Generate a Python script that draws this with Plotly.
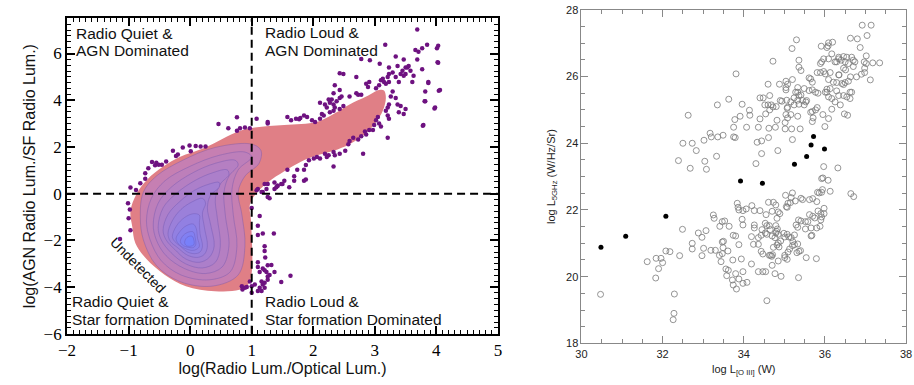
import plotly.graph_objects as go

# ---------------- Left panel: KDE contour outlines (outer -> inner), data coords ----------------
kde_l1_x = [-0.87, -0.70, -0.44, -0.17, 0.25, 0.78, 1.05, 1.53, 2.06, 2.33, 2.59, 2.86, 3.07, 3.15, 3.18, 3.13, 3.02, 2.86, 2.59, 2.33, 2.06, 1.80, 1.53, 1.26, 1.05, 0.97, 0.99, 1.00, 0.94, 0.80, 0.40, -0.07, -0.41, -0.71, -0.89, -0.94, -0.97]
kde_l1_y = [0.00, 0.60, 1.16, 1.57, 1.98, 2.66, 2.83, 2.94, 3.07, 3.41, 3.82, 4.16, 4.44, 4.42, 4.10, 3.55, 3.07, 2.60, 2.12, 1.84, 1.64, 1.37, 0.96, 0.48, -0.07, -0.48, -1.20, -3.40, -3.90, -4.12, -4.18, -3.96, -3.48, -2.80, -2.12, -1.43, -0.75]
kde_l2_x = [-0.81, -0.76, -0.55, -0.12, 0.41, 1.00, 1.15, 1.12, 0.89, 0.78, 0.84, 0.89, 0.78, 0.36, -0.17, -0.55, -0.76]
kde_l2_y = [-1.02, 0.07, 0.75, 1.43, 1.98, 2.12, 1.85, 1.30, 0.75, 0.07, -0.89, -2.25, -3.48, -3.96, -3.76, -3.07, -1.98]
kde_l3_x = [-0.71, -0.63, -0.41, -0.01, 0.47, 0.89, 1.00, 0.78, 0.68, 0.70, 0.76, 0.65, 0.31, -0.15, -0.47, -0.65]
kde_l3_y = [-1.16, -0.20, 0.55, 1.16, 1.64, 1.78, 1.57, 1.02, 0.20, -0.89, -2.25, -3.35, -3.69, -3.48, -2.87, -1.98]
kde_l4_x = [-0.60, -0.52, -0.31, 0.04, 0.41, 0.73, 0.78, 0.63, 0.55, 0.57, 0.63, 0.52, 0.25, -0.09, -0.39, -0.55]
kde_l4_y = [-1.30, -0.41, 0.27, 0.89, 1.30, 1.43, 1.23, 0.75, 0.07, -0.89, -2.25, -3.14, -3.42, -3.21, -2.66, -1.98]
kde_l5_x = [-0.52, -0.44, -0.23, 0.07, 0.36, 0.60, 0.63, 0.49, 0.41, 0.44, 0.49, 0.41, 0.20, -0.07, -0.31, -0.47]
kde_l5_y = [-1.43, -0.61, 0.00, 0.55, 0.89, 1.02, 0.82, 0.41, -0.20, -1.02, -2.25, -2.94, -3.18, -3.01, -2.53, -1.98]
kde_l6_x = [-0.44, -0.36, -0.17, 0.07, 0.31, 0.47, 0.47, 0.33, 0.28, 0.33, 0.39, 0.31, 0.15, -0.07, -0.25, -0.39]
kde_l6_y = [-1.57, -0.89, -0.34, 0.14, 0.41, 0.48, 0.27, -0.07, -0.61, -1.30, -2.25, -2.73, -2.94, -2.80, -2.39, -1.98]
kde_l7_x = [-0.36, -0.29, -0.15, 0.04, 0.20, 0.25, 0.20, 0.23, 0.28, 0.23, 0.12, -0.04, -0.20, -0.32]
kde_l7_y = [-1.71, -1.16, -0.68, -0.34, -0.20, -0.41, -0.82, -1.43, -2.25, -2.60, -2.73, -2.64, -2.32, -2.05]
kde_l8_x = [-0.29, -0.22, -0.09, 0.05, 0.15, 0.15, 0.16, 0.20, 0.16, 0.07, -0.04, -0.16, -0.25]
kde_l8_y = [-1.84, -1.37, -1.02, -0.86, -0.92, -1.23, -1.71, -2.25, -2.50, -2.57, -2.50, -2.25, -2.05]
kde_l9_x = [-0.23, -0.16, -0.06, 0.05, 0.10, 0.12, 0.15, 0.10, 0.03, -0.07, -0.16]
kde_l9_y = [-1.94, -1.60, -1.37, -1.30, -1.50, -1.91, -2.25, -2.39, -2.43, -2.36, -2.23]
kde_l10_x = [-0.16, -0.11, -0.02, 0.05, 0.08, 0.09, 0.05, -0.02, -0.11]
kde_l10_y = [-2.05, -1.78, -1.64, -1.64, -1.87, -2.19, -2.31, -2.30, -2.23]
kde_l11_x = [-0.09, -0.05, 0.03, 0.06, 0.06, 0.01, -0.06]
kde_l11_y = [-2.09, -1.87, -1.82, -1.98, -2.19, -2.25, -2.23]

# ---------------- Left panel: outlier points (x = log radio/optical, y = log AGN/SF radio) ----------------
left_points = [
    (-0.97, 0.26), (-0.88, 0.16), (-0.81, 0.44), (-0.73, 0.64), (-0.73, 0.87), (-0.68, 1.09), (-0.62, 1.35),
    (-0.57, 1.22), (-0.55, 1.32), (-0.51, 1.24), (-0.46, 1.24), (-0.39, 1.38), (-0.28, 1.84), (-0.23, 1.61),
    (-0.20, 1.68), (-0.12, 1.98), (-0.01, 2.06), (0.01, 1.82), (0.09, 2.04), (0.17, 2.02), (0.25, 2.02),
    (0.46, 2.98), (0.62, 2.80), (0.76, 3.27), (0.76, 2.69), (0.81, 2.80), (0.89, 2.83), (0.97, 2.80),
    (-1.01, -0.41), (-0.98, -0.68), (-1.00, -1.05), (-0.97, -1.57), (-1.14, -1.94),
    (0.84, -3.96), (0.89, -4.03), (0.85, -4.10), (0.97, -3.76), (1.00, -4.24),
    (1.00, -0.61), (1.13, -0.96), (1.10, -1.37), (1.10, -1.77), (1.18, -1.71), (1.10, -2.94), (1.18, -3.21),
    (1.24, -3.35), (1.26, -3.07), (1.29, -3.48), (1.16, -3.76), (1.21, -3.82), (1.26, -3.69), (1.13, -4.03),
    (1.10, -4.17), (1.00, -3.96), (0.92, -4.00),
    (1.08, 0.14), (1.18, 0.07), (1.29, -0.20), (1.37, 0.20), (1.42, 0.34), (1.50, 0.41), (1.61, 0.27),
    (1.69, 0.55), (1.85, 0.55), (1.36, -1.71), (1.21, -2.25), (1.21, -2.46), (1.22, -2.73), (1.10, -3.14),
    (1.13, -3.35), (1.32, -3.05), (1.37, -3.35), (1.21, -3.28), (1.26, -3.55), (1.63, -3.52), (1.48, -3.78),
    (1.18, -3.89), (1.05, -3.89), (1.21, -4.03), (1.16, -4.17),
    (1.08, 3.21), (1.26, 3.07), (1.26, 3.00), (1.58, 3.28), (1.64, 3.14), (1.72, 3.21), (1.77, 3.18),
    (1.79, 3.24), (1.85, 3.35), (1.90, 3.28), (1.98, 3.14), (2.03, 3.07), (2.11, 3.21), (2.17, 3.35),
    (2.14, 3.41), (2.27, 3.48), (2.33, 3.55), (2.35, 3.69), (2.43, 3.62), (2.49, 3.75), (2.19, 3.82),
    (2.11, 3.89), (2.22, 3.69), (2.27, 3.89), (2.33, 3.82), (2.38, 3.96), (2.43, 4.10), (2.46, 4.16),
    (2.30, 4.03), (2.25, 4.03), (2.33, 4.30), (2.43, 4.44), (2.35, 4.64), (2.43, 5.15), (2.49, 5.12),
    (2.59, 4.16), (2.70, 4.99), (2.70, 4.30), (2.73, 4.23), (2.78, 4.23), (2.86, 4.71), (2.89, 4.57),
    (2.91, 4.78), (3.02, 4.51), (3.07, 4.64), (3.10, 4.85), (3.13, 4.92), (3.15, 4.78), (3.18, 4.71),
    (3.21, 4.99), (3.23, 5.12), (3.23, 4.78), (3.29, 5.19), (3.34, 4.99), (3.39, 4.78), (3.42, 5.12),
    (3.45, 5.26), (3.47, 5.05), (3.50, 5.12), (3.50, 5.40), (3.53, 5.40), (3.55, 5.46), (3.58, 5.26),
    (3.61, 4.78), (3.63, 5.05), (3.69, 5.74), (3.71, 6.08), (3.77, 6.22), (3.77, 5.33), (3.87, 4.78),
    (4.01, 6.22), (4.03, 5.60), (4.06, 4.44), (3.98, 3.69), (3.82, 4.37), (3.82, 3.96), (3.79, 2.94),
    (3.50, 3.62), (3.47, 3.41), (3.42, 3.75), (3.39, 3.48), (3.37, 3.82), (3.34, 4.10), (3.29, 4.37),
    (3.26, 4.16), (3.23, 3.82), (3.21, 3.69), (3.18, 3.55), (3.21, 3.35), (3.23, 3.21), (3.10, 2.87),
    (3.07, 3.00), (3.05, 3.28), (3.02, 3.14), (2.99, 2.94), (2.97, 2.73), (2.91, 2.73), (2.86, 2.53),
    (2.84, 2.66), (2.78, 2.46), (2.81, 1.71), (2.73, 2.32), (2.65, 2.39), (2.59, 2.25), (2.57, 2.12),
    (2.52, 1.84), (2.43, 1.71), (2.35, 1.64), (2.33, 1.78), (2.25, 1.64), (2.22, 1.57), (2.19, 1.71),
    (2.11, 1.50), (2.06, 1.57), (2.01, 1.50), (1.93, 1.43), (1.88, 1.23), (1.85, 1.02), (1.88, 0.61),
    (1.74, 1.02), (1.69, 0.75), (1.58, 1.02), (1.53, 0.55), (1.48, 0.41), (1.42, 0.34), (1.40, 0.27),
    (1.37, 0.48), (1.26, 0.41), (1.21, 0.41), (1.24, 0.20), (1.16, 0.07), (1.10, 0.20), (1.26, -0.14),
    (3.21, 2.39), (2.33, 1.16),
    (3.69, 7.03), (3.17, 6.38), (3.85, 6.38), (4.03, 6.33), (4.04, 4.41), (3.97, 3.65), (3.81, 3.96),
    (3.78, 2.91), (4.02, 5.63), (3.87, 4.74), (2.78, 5.77), (2.92, 5.71), (3.08, 5.56), (3.23, 5.40),
    (3.34, 5.87), (3.37, 5.46), (3.47, 5.74), (3.66, 6.15),
]
left_x = [p[0] for p in left_points]
left_y = [p[1] for p in left_points]

radio_loud_cut = 1.0   # log(Radio/Optical) threshold
agn_cut = 0.0          # log(AGN/SF) threshold

# ---------------- Right panel data ----------------
open_points = [
    (36.92, 27.54), (37.14, 27.54), (37.04, 27.23), (36.63, 27.15), (36.80, 27.13), (36.87, 26.87),
    (37.02, 26.62), (37.02, 26.39), (37.18, 26.41), (37.35, 26.41), (37.12, 25.90), (36.97, 26.44),
    (36.98, 26.25), (36.98, 26.12), (36.90, 26.07), (36.78, 25.99), (36.63, 25.99), (36.70, 26.30),
    (36.70, 26.49), (36.66, 26.58), (36.54, 26.58), (36.46, 26.60), (36.34, 26.58), (36.25, 26.44),
    (36.29, 26.44), (36.34, 26.53), (36.40, 26.49), (36.50, 26.44), (36.58, 26.39), (36.74, 26.44),
    (36.46, 26.25), (36.51, 26.20), (36.35, 26.05), (36.17, 26.68), (36.05, 26.87), (36.09, 27.01),
    (36.19, 27.03), (36.08, 26.92), (35.91, 26.91), (35.89, 26.39), (35.97, 26.53), (36.09, 26.53),
    (35.92, 26.44), (35.81, 26.12), (35.89, 26.12), (35.97, 26.15), (36.01, 26.08), (36.13, 26.12),
    (36.09, 25.91), (36.21, 25.83), (36.29, 25.82), (36.42, 25.79), (36.46, 25.76), (36.50, 25.82),
    (36.58, 25.86), (36.29, 25.57), (36.13, 25.64), (36.05, 25.62), (36.01, 25.53), (36.05, 25.53),
    (36.09, 25.39), (36.17, 25.34), (36.25, 25.24), (36.34, 25.43), (36.38, 25.15), (36.46, 25.43),
    (36.54, 25.39), (36.62, 25.53), (36.66, 25.53), (36.62, 25.34), (36.48, 24.88), (36.56, 24.84),
    (36.17, 25.02), (36.09, 24.74), (35.95, 24.86), (36.00, 24.50), (35.81, 25.07), (35.77, 25.00),
    (35.69, 24.95), (35.65, 24.93), (35.71, 24.76), (35.69, 24.65), (35.53, 25.24), (35.45, 25.28),
    (35.36, 25.43), (35.33, 25.29), (35.28, 25.53), (35.33, 25.67), (35.20, 25.91), (35.04, 25.86),
    (35.08, 25.77), (35.04, 25.67), (34.88, 25.77), (34.60, 25.77), (34.64, 25.43), (34.48, 25.36),
    (34.40, 25.36), (34.68, 25.15), (34.60, 25.15), (34.52, 25.15), (34.72, 25.09), (34.80, 25.10),
    (34.90, 25.28), (34.94, 25.26), (35.06, 25.29), (35.08, 25.08), (35.07, 25.05), (35.16, 25.24),
    (35.24, 25.15), (35.16, 24.86), (35.33, 24.81), (35.36, 25.17), (35.49, 25.15), (35.55, 25.28),
    (35.61, 25.58), (35.69, 25.60), (35.77, 25.53), (35.83, 25.50), (35.61, 25.96), (35.65, 25.93),
    (35.69, 25.83), (35.49, 25.64), (35.41, 25.45), (35.33, 25.53), (35.24, 25.36), (35.08, 24.76),
    (35.04, 24.86), (35.02, 24.62), (35.02, 24.43), (35.18, 24.43), (35.39, 24.43), (35.20, 24.11),
    (34.82, 24.69), (34.78, 24.48), (34.62, 24.45), (34.61, 24.17), (34.44, 24.07), (34.44, 23.69),
    (34.33, 24.03), (34.30, 23.39), (34.14, 24.99), (34.15, 24.84), (33.91, 24.81), (33.78, 24.71),
    (33.75, 24.48), (34.07, 24.48), (34.36, 24.48), (34.40, 24.73), (34.54, 24.88), (34.64, 25.00),
    (33.79, 24.17), (33.75, 24.19), (33.49, 24.24), (33.36, 24.19), (33.20, 24.19), (33.17, 24.30),
    (33.02, 24.09), (32.73, 24.00), (32.83, 23.78), (32.39, 23.48), (32.68, 23.25), (33.04, 23.46),
    (33.08, 23.22), (33.33, 23.61), (33.35, 25.15), (33.63, 25.32), (33.96, 25.17), (33.81, 26.08),
    (34.72, 26.46), (35.19, 26.84), (35.30, 27.10), (35.36, 26.49), (35.36, 26.28), (35.41, 26.18),
    (35.04, 25.60), (36.34, 26.05), (35.97, 23.30), (36.32, 23.26), (35.95, 22.96), (34.84, 23.78),
    (32.63, 24.84), (32.50, 24.00),
    (30.47, 19.47), (31.62, 20.45), (31.84, 20.55), (31.96, 20.55), (32.00, 20.42), (31.90, 20.24),
    (31.83, 19.96), (32.08, 20.77), (32.18, 20.75), (32.42, 20.63), (32.49, 21.42), (32.29, 19.48),
    (32.28, 18.90), (32.26, 18.71), (32.73, 21.00), (32.73, 20.83), (32.88, 21.31), (32.97, 21.18),
    (33.01, 20.85), (32.97, 20.63), (33.07, 21.38), (33.19, 20.79), (33.30, 20.79), (33.25, 21.85),
    (33.27, 21.75), (33.41, 21.51), (33.47, 21.65), (33.53, 21.67), (33.64, 21.51), (33.47, 21.04),
    (33.49, 20.87), (33.47, 20.69), (33.50, 21.06), (33.44, 20.45), (33.40, 20.64), (33.61, 20.77),
    (33.74, 21.24), (33.80, 21.22), (33.56, 20.23), (33.62, 20.19), (33.58, 20.03), (33.72, 19.90),
    (33.74, 19.75), (33.82, 19.63), (33.80, 20.09), (33.88, 19.93), (33.98, 20.15), (33.98, 19.80),
    (34.08, 19.83), (33.73, 20.50), (33.94, 20.53), (33.88, 20.96), (33.96, 21.72), (33.98, 21.55),
    (33.84, 22.20), (33.86, 22.08), (33.88, 22.00), (33.98, 21.98), (34.06, 22.03), (34.20, 22.13),
    (34.26, 21.98), (34.40, 21.98), (34.26, 21.55), (34.26, 21.46), (34.19, 21.20), (34.24, 20.97),
    (34.36, 20.97), (34.36, 21.17), (34.43, 21.24), (34.45, 21.41), (34.53, 21.60), (34.57, 21.53),
    (34.43, 20.76), (34.47, 20.68), (34.61, 22.23), (34.73, 22.23), (34.70, 21.96), (34.79, 22.15),
    (34.85, 21.94), (34.82, 21.75), (34.89, 21.89), (34.55, 21.86), (34.63, 21.53), (34.79, 21.53),
    (34.83, 21.43), (34.81, 21.36), (34.65, 21.41), (34.53, 21.31), (34.57, 21.27), (34.70, 21.22),
    (34.77, 21.17), (34.79, 21.31), (34.85, 21.27), (34.99, 21.30), (34.91, 21.07), (35.01, 21.19),
    (35.07, 21.27), (35.11, 21.19), (35.17, 21.17), (35.25, 21.25), (34.82, 20.95), (34.85, 21.01),
    (34.87, 20.89), (34.73, 20.88), (34.71, 20.66), (34.69, 20.61), (34.66, 20.64), (34.63, 20.64),
    (34.77, 20.09), (34.92, 20.01), (34.85, 20.47), (35.01, 20.57), (35.07, 20.52), (35.01, 20.64),
    (35.09, 20.74), (35.13, 20.83), (35.20, 20.93), (35.25, 20.96), (35.33, 20.98), (35.21, 21.05),
    (35.31, 20.72), (35.36, 20.76), (35.40, 20.78), (35.54, 20.57), (35.79, 20.54), (35.35, 19.97),
    (35.03, 22.44), (35.05, 22.10), (35.07, 22.08), (35.09, 22.20), (35.15, 22.22), (35.17, 22.37),
    (35.20, 22.51), (35.27, 22.27), (35.35, 21.70), (35.41, 21.67), (35.29, 21.55), (35.33, 21.48),
    (35.52, 21.43), (35.52, 21.65), (35.58, 21.65), (35.62, 21.86), (35.66, 21.46), (35.66, 21.22),
    (35.68, 21.24), (35.75, 21.76), (35.80, 21.46), (35.88, 21.51), (35.90, 21.70), (35.92, 21.79),
    (35.90, 21.89), (35.83, 21.97), (35.70, 22.34), (35.62, 22.31), (35.80, 22.25), (35.92, 22.53),
    (35.94, 22.61), (35.98, 22.05), (35.98, 21.89), (36.08, 22.89), (36.13, 22.56), (35.92, 22.94),
    (35.82, 22.53), (35.86, 22.51), (35.70, 21.81), (35.41, 22.35), (35.45, 22.31), (36.64, 22.49),
    (36.71, 22.40), (34.57, 19.28), (34.54, 20.15), (34.36, 20.15), (34.70, 20.34), (34.19, 20.38),
    (34.47, 20.15),
]
open_x = [p[0] for p in open_points]
open_y = [p[1] for p in open_points]

filled_x = [30.48, 31.09, 32.08, 33.92, 34.46, 35.25, 35.55, 35.66, 35.72, 35.99]
filled_y = [20.88, 21.21, 21.81, 22.87, 22.80, 23.37, 23.60, 23.95, 24.20, 23.83]

# ---------------- Figure ----------------
fig = go.Figure()

levels = [(kde_l1_x, kde_l1_y), (kde_l2_x, kde_l2_y), (kde_l3_x, kde_l3_y), (kde_l4_x, kde_l4_y),
          (kde_l5_x, kde_l5_y), (kde_l6_x, kde_l6_y), (kde_l7_x, kde_l7_y), (kde_l8_x, kde_l8_y),
          (kde_l9_x, kde_l9_y), (kde_l10_x, kde_l10_y), (kde_l11_x, kde_l11_y)]
c_start = (198, 127, 178)
c_end = (120, 128, 250)
n_in = len(levels) - 1
for i, (lx, ly) in enumerate(levels):
    if i == 0:
        fc = "rgb(224,127,134)"
        lw = 0
    else:
        t = (i - 1) / max(n_in - 1, 1)
        c = [round(c_start[k] + (c_end[k] - c_start[k]) * t) for k in range(3)]
        fc = f"rgb({c[0]},{c[1]},{c[2]})"
        lw = 0.8
    fig.add_trace(go.Scatter(
        x=list(lx) + [lx[0]], y=list(ly) + [ly[0]], mode="lines", fill="toself",
        fillcolor=fc, line=dict(color="rgba(105,80,175,0.45)" if i else fc, width=lw, shape="spline", smoothing=1.0),
        hoverinfo="skip", showlegend=False, xaxis="x", yaxis="y"))

fig.add_trace(go.Scatter(x=left_x, y=left_y, mode="markers",
                         marker=dict(size=4.5, color="rgb(110,18,128)"),
                         showlegend=False, xaxis="x", yaxis="y"))

fig.add_trace(go.Scatter(x=open_x, y=open_y, mode="markers",
                         marker=dict(symbol="circle-open", size=6, color="#7a7a7a", line=dict(width=0.8)),
                         showlegend=False, xaxis="x2", yaxis="y2"))
fig.add_trace(go.Scatter(x=filled_x, y=filled_y, mode="markers",
                         marker=dict(symbol="circle", size=5, color="black"),
                         showlegend=False, xaxis="x2", yaxis="y2"))

# quadrant dividers
fig.add_shape(type="line", xref="x", yref="y", x0=radio_loud_cut, x1=radio_loud_cut, y0=-6, y1=7.5,
              line=dict(color="black", width=2, dash="8px,5px"), layer="above")
fig.add_shape(type="line", xref="x", yref="y", x0=-2, x1=5, y0=agn_cut, y1=agn_cut,
              line=dict(color="black", width=2, dash="8px,5px"), layer="above")

afont = dict(family="Liberation Sans", size=15.5, color="#111")
labels = [
    ("Radio Quiet &", -1.89, 6.84), ("AGN Dominated", -1.89, 6.11),
    ("Radio Loud &", 1.18, 6.89), ("AGN Dominated", 1.18, 6.11),
    ("Radio Quiet &", -1.95, -4.63), ("Star formation Dominated", -1.95, -5.37),
    ("Radio Loud &", 1.18, -4.63), ("Star formation Dominated", 1.18, -5.37),
]
for txt, ax_, ay_ in labels:
    fig.add_annotation(text=txt, x=ax_, y=ay_, xref="x", yref="y", xanchor="left", yanchor="middle",
                       showarrow=False, font=afont)
fig.add_annotation(text="Undetected", x=-0.85, y=-3.07, xref="x", yref="y", textangle=45,
                   showarrow=False, font=dict(family="Liberation Sans", size=14, color="#111"))

tick_left = dict(family="Liberation Serif", size=17, color="black")
title_left = dict(family="Liberation Sans", size=16, color="#111")
fig.update_layout(
    width=914, height=385, autosize=False, margin=dict(l=0, r=0, t=0, b=0, pad=0),
    paper_bgcolor="white", plot_bgcolor="white", showlegend=False,
    xaxis=dict(domain=[0.0646, 0.5438], range=[-2, 5], dtick=1, tick0=0, ticks="inside", ticklen=8,
               tickwidth=1.5, tickcolor="black", showline=True, linewidth=2, linecolor="black", mirror="ticks",
               showgrid=False, zeroline=False, tickfont=tick_left,
               minor=dict(dtick=0.1, ticks="inside", ticklen=4, tickwidth=1, tickcolor="black"),
               title=dict(text="log(Radio Lum./Optical Lum.)", font=title_left, standoff=2)),
    yaxis=dict(domain=[0.1117, 0.9662], range=[-6, 7.5], dtick=2, tick0=0, ticks="inside", ticklen=8,
               tickwidth=1.5, tickcolor="black", showline=True, linewidth=2, linecolor="black", mirror="ticks",
               showgrid=False, zeroline=False, tickfont=tick_left,
               minor=dict(dtick=0.25, ticks="inside", ticklen=4, tickwidth=1, tickcolor="black"),
               title=dict(text="log(AGN Radio Lum./SF Radio Lum.)", font=title_left, standoff=4)),
    xaxis2=dict(domain=[0.6368, 0.9978], range=[30, 38], dtick=2, tick0=30, ticks="inside", ticklen=7,
                tickwidth=1, tickcolor="#888", showline=True, linewidth=1, linecolor="#888", mirror="ticks",
                showgrid=False, zeroline=False, anchor="y2", ticklabeloverflow="allow",
                tickfont=dict(family="Liberation Sans", size=11, color="#222"),
                minor=dict(dtick=0.5, ticks="inside", ticklen=4, tickwidth=1, tickcolor="#888"),
                title=dict(text="log L<sub>[O III]</sub> (W)", font=dict(family="Liberation Sans", size=11, color="#222"), standoff=6)),
    yaxis2=dict(domain=[0.0857, 0.9896], range=[18, 28], dtick=2, tick0=18, ticks="inside", ticklen=7,
                tickwidth=1, tickcolor="#888", showline=True, linewidth=1, linecolor="#888", mirror="ticks",
                showgrid=False, zeroline=False, anchor="x2", ticklabeloverflow="allow",
                tickfont=dict(family="Liberation Sans", size=11, color="#222"),
                minor=dict(dtick=0.5, ticks="inside", ticklen=4, tickwidth=1, tickcolor="#888"),
                title=dict(text="log L<sub>5GHz</sub> (W/Hz/Sr)", font=dict(family="Liberation Sans", size=11, color="#222"), standoff=8)),
)

fig.write_html("out.html", config={"responsive": False})
